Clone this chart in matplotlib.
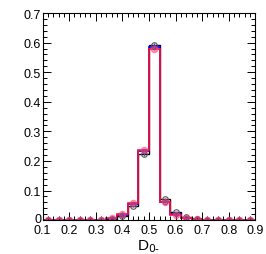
import matplotlib
matplotlib.use('Agg')
import matplotlib.pyplot as plt
import matplotlib.transforms as mtransforms
import numpy as np
from matplotlib.ticker import MultipleLocator

plt.rcParams.update({
    'font.family': ['Liberation Sans', 'DejaVu Sans'],
    'font.size': 9,
})

# bin edges 0.1 .. 0.9, width 0.04
edges = np.round(np.arange(0.10, 0.9001, 0.04), 2)

black_vals = [0.0005, 0.0005, 0.0005, 0.0005, 0.0005, 0.0008, 0.003, 0.014,
              0.046, 0.222, 0.592, 0.071, 0.026, 0.009, 0.003, 0.0015,
              0.001, 0.001, 0.0008, 0.0005]
blue_vals = [0.0005, 0.0005, 0.0005, 0.0005, 0.0005, 0.0008, 0.004, 0.017,
             0.053, 0.235, 0.585, 0.062, 0.019, 0.006, 0.002, 0.001,
             0.001, 0.0008, 0.0006, 0.0005]
red_vals = [0.0005, 0.0005, 0.0005, 0.0005, 0.0006, 0.0012, 0.006, 0.021,
            0.058, 0.237, 0.580, 0.060, 0.018, 0.006, 0.002, 0.001,
            0.0008, 0.0006, 0.0005, 0.0004]
err_vals = [0.0005, 0.0005, 0.0005, 0.0005, 0.0005, 0.0006, 0.001, 0.002,
            0.003, 0.005, 0.007, 0.003, 0.002, 0.001, 0.001, 0.0005,
            0.0005, 0.0005, 0.0005, 0.0005]

centers = 0.5 * (edges[:-1] + edges[1:])

fig = plt.figure(figsize=(2.66, 2.55), dpi=100)
ax = fig.add_axes([0.160, 0.133, 0.800, 0.812])

ax.stairs(black_vals, edges, color='black', linewidth=1.0)
ax.stairs(blue_vals, edges, color='#0000ff', linewidth=1.2)
ax.stairs(red_vals, edges, color='#ff1030', linewidth=1.2)

ax.errorbar(centers, black_vals, yerr=err_vals, fmt='o', ms=4, mfc='none',
            mec='#555555', mew=0.8, ecolor='#555555', elinewidth=0.8, capsize=0)
ax.errorbar(centers, blue_vals, yerr=err_vals, fmt='o', ms=3, mfc='none',
            mec='#3030ff', mew=0.8, ecolor='#3030ff', elinewidth=0.8, capsize=0)
ax.errorbar(centers, red_vals, yerr=err_vals, fmt='o', ms=4.5, mfc='#ff4060',
            mec='#ff4060', alpha=0.5, ecolor='#ff4060', elinewidth=0.8, capsize=0)

ax.set_xlim(0.1, 0.9)
ax.set_ylim(0, 0.7)
ax.xaxis.set_major_locator(MultipleLocator(0.1))
ax.xaxis.set_minor_locator(MultipleLocator(0.02))
ax.yaxis.set_major_locator(MultipleLocator(0.1))
ax.yaxis.set_minor_locator(MultipleLocator(0.02))
ax.tick_params(which='both', direction='in', top=True, right=True, width=0.7)
ax.tick_params(which='major', length=6)
ax.tick_params(which='minor', length=3)
ax.tick_params(axis='x', pad=3)
ax.tick_params(axis='y', pad=1)
ax.set_yticks(np.round(np.arange(0, 0.71, 0.1), 1))
ax.set_yticklabels(['0', '0.1', '0.2', '0.3', '0.4', '0.5', '0.6', '0.7'])
ax.set_xticks(np.round(np.arange(0.1, 0.91, 0.1), 1))
ax.set_xticklabels(['0.1', '0.2', '0.3', '0.4', '0.5', '0.6', '0.7', '0.8', '0.9'])
for s in ax.spines.values():
    s.set_linewidth(0.8)

# lift the "0" label a little so it clears the "0.1" below it
zero_lbl = ax.get_yticklabels()[0]
zero_lbl.set_transform(zero_lbl.get_transform() +
                       mtransforms.ScaledTranslation(0, 3 / 100, fig.dpi_scale_trans))

ax.set_xlabel(r'D$_{0\text{-}}$', fontsize=11, labelpad=1)

fig.savefig('out.png', dpi=100)
